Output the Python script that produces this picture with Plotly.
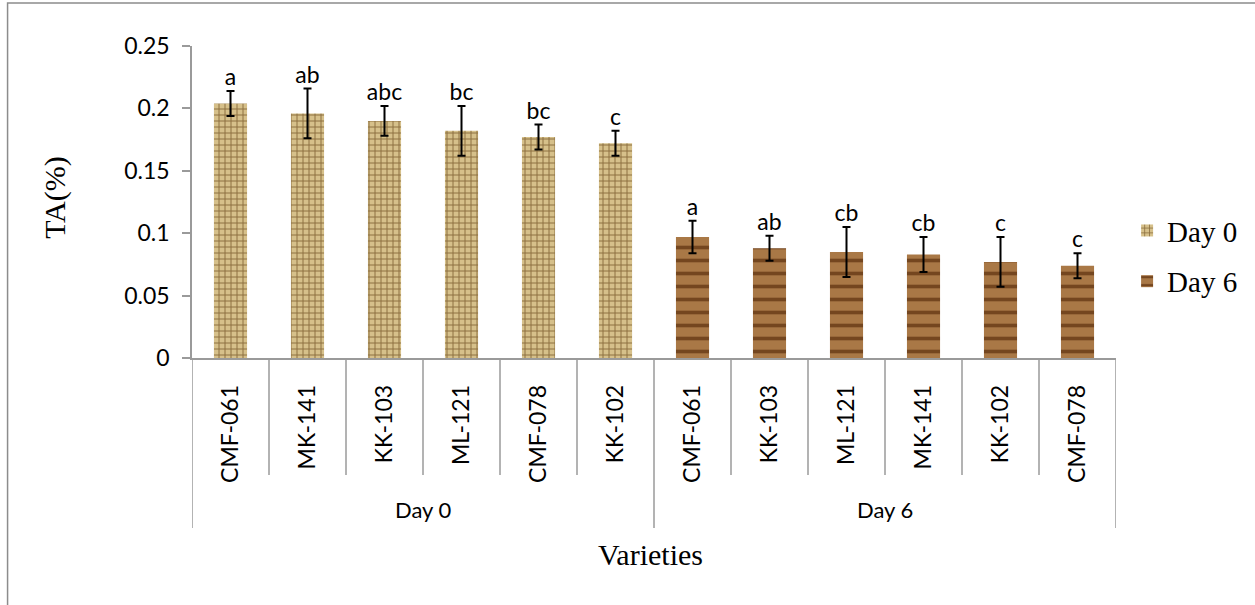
import plotly.graph_objects as go

# ---- data ----
groups = ["Day 0", "Day 6"]
varieties_day0 = ["CMF-061", "MK-141", "KK-103", "ML-121", "CMF-078", "KK-102"]
varieties_day6 = ["CMF-061", "KK-103", "ML-121", "MK-141", "KK-102", "CMF-078"]
ta_day0 = [0.204, 0.196, 0.190, 0.182, 0.177, 0.172]
ta_day6 = [0.097, 0.088, 0.085, 0.083, 0.077, 0.074]
err_day0 = [0.010, 0.020, 0.012, 0.020, 0.010, 0.010]
err_day6 = [0.013, 0.010, 0.020, 0.014, 0.020, 0.010]
letters_day0 = ["a", "ab", "abc", "bc", "bc", "c"]
letters_day6 = ["a", "ab", "cb", "cb", "c", "c"]
y_ticks = [0, 0.05, 0.1, 0.15, 0.2, 0.25]
y_ticktext = ["0", "0.05", "0.1", "0.15", "0.2", "0.25"]

SANS = "Lato, 'Liberation Sans', sans-serif"
SERIF = "'Liberation Serif', 'Times New Roman', serif"

n0 = len(varieties_day0)
n6 = len(varieties_day6)
x0 = list(range(n0))
x6 = list(range(n0, n0 + n6))
all_x = x0 + x6
all_labels = varieties_day0 + varieties_day6

fig = go.Figure()

fig.add_trace(go.Bar(
    x=x0, y=ta_day0, name="Day 0", width=0.43, legendgroup="g0",
    marker=dict(color="#d8c48e", line=dict(width=0),
                pattern=dict(shape="+", bgcolor="#d6c08a", fgcolor="#8c6f3e",
                             size=6, solidity=0.3, fillmode="replace")),
    error_y=dict(type="data", array=err_day0, color="black", thickness=2, width=4),
))
fig.add_trace(go.Bar(
    x=x6, y=ta_day6, name="Day 6", width=0.43, legendgroup="g6",
    marker=dict(color="#a8743f", line=dict(width=0),
                pattern=dict(shape="-", bgcolor="#a97846", fgcolor="#74461f",
                             size=13, solidity=0.28, fillmode="replace")),
    error_y=dict(type="data", array=err_day6, color="black", thickness=2, width=4),
))

# significance letters above error bars
fig.add_trace(go.Scatter(
    x=all_x,
    y=[v + e for v, e in zip(ta_day0 + ta_day6, err_day0 + err_day6)],
    text=letters_day0 + letters_day6, mode="text", textposition="top center",
    textfont=dict(family=SANS, size=23, color="black"),
    showlegend=False, hoverinfo="skip", cliponaxis=False,
))

shapes = []
n_all = n0 + n6
for i in range(n_all + 1):
    xb = i - 0.5
    is_group = (i == 0 or i == n0 or i == n_all)
    shapes.append(dict(type="line", xref="x", yref="paper", x0=xb, x1=xb,
                       y0=0, y1=-0.545 if is_group else -0.375,
                       line=dict(color="#9a9a9a", width=1.5)))
shapes.append(dict(type="rect", xref="paper", yref="paper",
                   x0=-0.1996, x1=1.16, y0=-0.82, y1=1.138,
                   line=dict(color="#8c8c8c", width=1.5), fillcolor="rgba(0,0,0,0)",
                   layer="below"))

annotations = []
for g, xs in zip(groups, [x0, x6]):
    annotations.append(dict(x=sum(xs) / len(xs), y=-0.487, xref="x", yref="paper",
                            text=g, showarrow=False, yanchor="middle",
                            font=dict(family=SANS, size=22, color="black")))
annotations.append(dict(x=0.496, y=-0.631, xref="paper", yref="paper", text="Varieties",
                        showarrow=False, yanchor="middle",
                        font=dict(family=SERIF, size=30, color="black")))
annotations.append(dict(x=-0.169, y=0.516, xref="paper", yref="paper", text="TA(%)",
                        showarrow=False, textangle=-90, yanchor="middle",
                        font=dict(family=SERIF, size=30, color="black")))

fig.update_layout(
    width=1255, height=605,
    margin=dict(l=192, r=136, t=46, b=247),
    paper_bgcolor="white", plot_bgcolor="white",
    barmode="overlay",
    showlegend=True,
    legend=dict(x=1.012, y=0.49, xanchor="left", yanchor="top",
                font=dict(family=SERIF, size=29, color="black"),
                traceorder="grouped", tracegroupgap=10,
                itemwidth=30, bgcolor="rgba(0,0,0,0)"),
    shapes=shapes, annotations=annotations,
    xaxis=dict(range=[-0.5, n_all - 0.5], tickmode="array", tickvals=all_x,
               ticktext=all_labels, tickangle=-90, ticks="", showgrid=False,
               zeroline=False, showline=True, linecolor="#9a9a9a", linewidth=1.5,
               ticklabelstandoff=16,
               tickfont=dict(family=SANS, size=23, color="black")),
    yaxis=dict(range=[0, 0.25], tickmode="array", tickvals=y_ticks,
               ticktext=y_ticktext, ticks="outside", ticklen=8, tickcolor="#9a9a9a",
               tickwidth=1.5, showgrid=False, zeroline=False, showline=True,
               linecolor="#9a9a9a", linewidth=1.5, ticklabelstandoff=8,
               tickfont=dict(family=SANS, size=23, color="black")),
)

fig.write_html("out.html", post_script="document.body.style.margin='0';",
               config={"displayModeBar": False})
